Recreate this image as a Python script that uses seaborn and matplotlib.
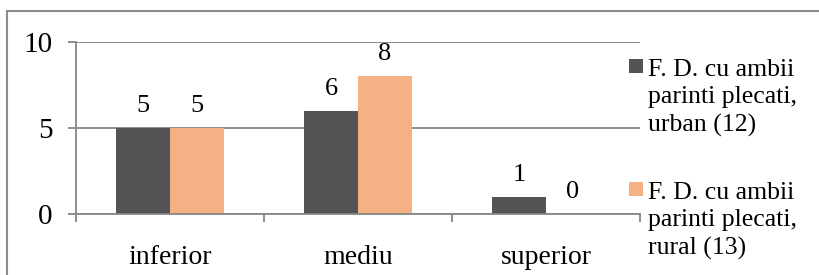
import matplotlib
matplotlib.use("Agg")
import pandas as pd
import seaborn as sns
import matplotlib.pyplot as plt
from matplotlib.patches import Rectangle
from matplotlib.ticker import FixedLocator

# Date
categorii = ["inferior", "mediu", "superior"]
urban = [5, 6, 1]
rural = [5, 8, 0]
serii = ["F. D. cu ambii\nparinti plecati,\nurban (12)",
         "F. D. cu ambii\nparinti plecati,\nrural (13)"]
culori = ["#545454", "#F4B183"]
gri = "#868686"

df = pd.DataFrame({
    "nivel": categorii * 2,
    "valoare": urban + rural,
    "serie": [serii[0]] * 3 + [serii[1]] * 3,
})

sns.set_theme(style="white")
plt.rcParams["font.family"] = ["Liberation Serif", "DejaVu Serif"]

W, H = 820, 275
fig = plt.figure(figsize=(W / 100, H / 100), dpi=100)
ax = fig.add_axes([76 / W, 1 - 214 / H, 564 / W, 172 / H])

sns.barplot(data=df, x="nivel", y="valoare", hue="serie", palette=culori,
            width=0.574, gap=0, saturation=1, linewidth=0, ax=ax,
            legend=False)

# etichete de date
for cont in ax.containers:
    ax.bar_label(cont, fmt="%d", padding=8, fontsize=19, color="black")

ax.set_ylim(0, 10)
ax.set_xlim(-0.5, 2.5)
ax.set_yticks([0, 5, 10])
ax.set_xlabel("")
ax.set_ylabel("")
ax.grid(axis="y", color=gri, linewidth=1.3)
ax.set_axisbelow(True)

for s in ["top", "right"]:
    ax.spines[s].set_visible(False)
for s in ["left", "bottom"]:
    ax.spines[s].set_color(gri)
    ax.spines[s].set_linewidth(1.3)

ax.tick_params(axis="y", left=True, length=6, width=1.3, color=gri,
               pad=11, labelsize=21, labelcolor="black")
ax.tick_params(axis="x", which="major", bottom=False, length=0, pad=22,
               labelsize=20, labelcolor="black")
ax.xaxis.set_minor_locator(FixedLocator([-0.5, 0.5, 1.5, 2.5]))
ax.tick_params(axis="x", which="minor", bottom=True, length=6, width=1.3,
               color=gri)

# legenda (pozitionata manual, ca in original)
for eticheta, culoare, y_sus in zip(serii, culori, [59, 182]):
    fig.patches.append(Rectangle((629 / W, 1 - (y_sus + 14) / H), 14 / W,
                                 14 / H, transform=fig.transFigure,
                                 facecolor=culoare, edgecolor="none"))
    fig.text(648 / W, 1 - y_sus / H, eticheta, va="top", ha="left",
             fontsize=18.5, linespacing=1.32, color="black")

# chenar exterior
fig.patches.append(Rectangle((7 / W, -0.1), 1.2, 1.1 - 11 / H,
                             transform=fig.transFigure, fill=False,
                             edgecolor="#8c8c8c", linewidth=1.5))

fig.savefig("out.png", dpi=100)
